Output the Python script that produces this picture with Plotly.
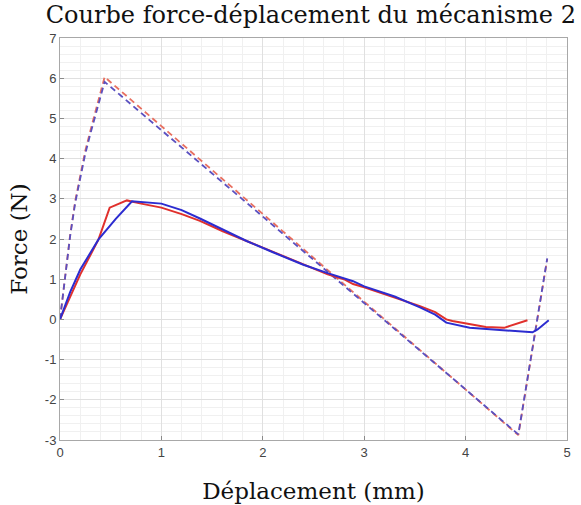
import plotly.graph_objects as go

# Measured curves (solid) – displacement in mm, force in N
x_mes_rouge = [0, 0.1, 0.2, 0.3, 0.38, 0.49, 0.66, 0.8, 1.0, 1.2, 1.38, 1.6, 1.84, 2.1,
               2.4, 2.64, 2.8, 2.89, 3.0, 3.3, 3.55, 3.7, 3.81, 3.87, 4.04, 4.2, 4.38,
               4.5, 4.61]
y_mes_rouge = [0, 0.55, 1.12, 1.6, 1.99, 2.78, 2.96, 2.88, 2.78, 2.62, 2.45, 2.2, 1.95,
               1.67, 1.36, 1.12, 1.0, 0.88, 0.8, 0.55, 0.33, 0.18, 0.0, -0.04, -0.12,
               -0.19, -0.21, -0.12, -0.02]

x_mes_bleu = [0, 0.1, 0.2, 0.38, 0.55, 0.71, 1.0, 1.2, 1.38, 1.6, 1.84, 2.1, 2.4, 2.64,
              2.89, 3.0, 3.3, 3.55, 3.7, 3.81, 4.04, 4.37, 4.66, 4.71, 4.82]
y_mes_bleu = [0, 0.68, 1.24, 1.99, 2.5, 2.94, 2.88, 2.72, 2.51, 2.24, 1.95, 1.67, 1.36,
              1.15, 0.95, 0.82, 0.57, 0.3, 0.12, -0.08, -0.21, -0.27, -0.32, -0.25, -0.02]

# Model curves (dashed)
x_mod_rouge = [0, 0.05, 0.1, 0.15, 0.2, 0.25, 0.3, 0.35, 0.4, 0.44, 4.52, 4.805]
y_mod_rouge = [0, 1.1, 2.1, 2.95, 3.6, 4.2, 4.7, 5.2, 5.7, 6.03, -2.88, 1.5]

x_mod_bleu = [0, 0.05, 0.1, 0.15, 0.2, 0.25, 0.3, 0.35, 0.4, 0.44, 4.52, 4.805]
y_mod_bleu = [0, 1.08, 2.07, 2.9, 3.55, 4.13, 4.62, 5.1, 5.58, 5.91, -2.86, 1.52]

x_ticks = [0, 1, 2, 3, 4, 5]
y_ticks = [-3, -2, -1, 0, 1, 2, 3, 4, 5, 6, 7]

ROUGE = "#e0302c"
BLEU = "#2c2cd0"

fig = go.Figure()
fig.add_trace(go.Scatter(x=x_mod_rouge, y=y_mod_rouge, mode="lines",
                         line=dict(color="#e87060", width=1.8, dash="6px,4px")))
fig.add_trace(go.Scatter(x=x_mod_bleu, y=y_mod_bleu, mode="lines",
                         line=dict(color="#5a50c0", width=1.8, dash="6px,4px")))
fig.add_trace(go.Scatter(x=x_mes_rouge, y=y_mes_rouge, mode="lines",
                         line=dict(color=ROUGE, width=2)))
fig.add_trace(go.Scatter(x=x_mes_bleu, y=y_mes_bleu, mode="lines",
                         line=dict(color=BLEU, width=2)))

axis_common = dict(
    showgrid=True, gridcolor="#e0e0e0", gridwidth=1, automargin=False,
    zeroline=False, showline=True, linecolor="#a8a8a8", linewidth=1, mirror=True,
    ticks="inside", ticklen=4, tickcolor="#8a8a8a",
    tickfont=dict(family="Liberation Sans, Arial, sans-serif", size=13, color="#444"),
    minor=dict(showgrid=True, gridcolor="#f0f0f0", dtick=0.2),
)

fig.update_xaxes(range=[0, 5], tickvals=x_ticks, ticktext=[str(v) for v in x_ticks],
                 title=dict(text="Déplacement (mm)", standoff=24,
                            font=dict(family="DejaVu Serif, serif", size=23, color="#111")),
                 **axis_common)
fig.update_yaxes(range=[-3, 7], tickvals=y_ticks, ticktext=[str(v) for v in y_ticks],
                 title=dict(text="Force (N)", standoff=10,
                            font=dict(family="DejaVu Serif, serif", size=23, color="#111")),
                 **axis_common)

fig.update_layout(
    width=581, height=505,
    margin=dict(l=60, r=14, t=38, b=65),
    paper_bgcolor="white", plot_bgcolor="white",
    showlegend=False,
    title=dict(text="Courbe force-déplacement du mécanisme 2",
               x=0.535, xanchor="center", y=1 - 15 / 505, yanchor="middle",
               font=dict(family="DejaVu Serif, serif", size=24, color="#111")),
)

fig.write_html("out.html")
